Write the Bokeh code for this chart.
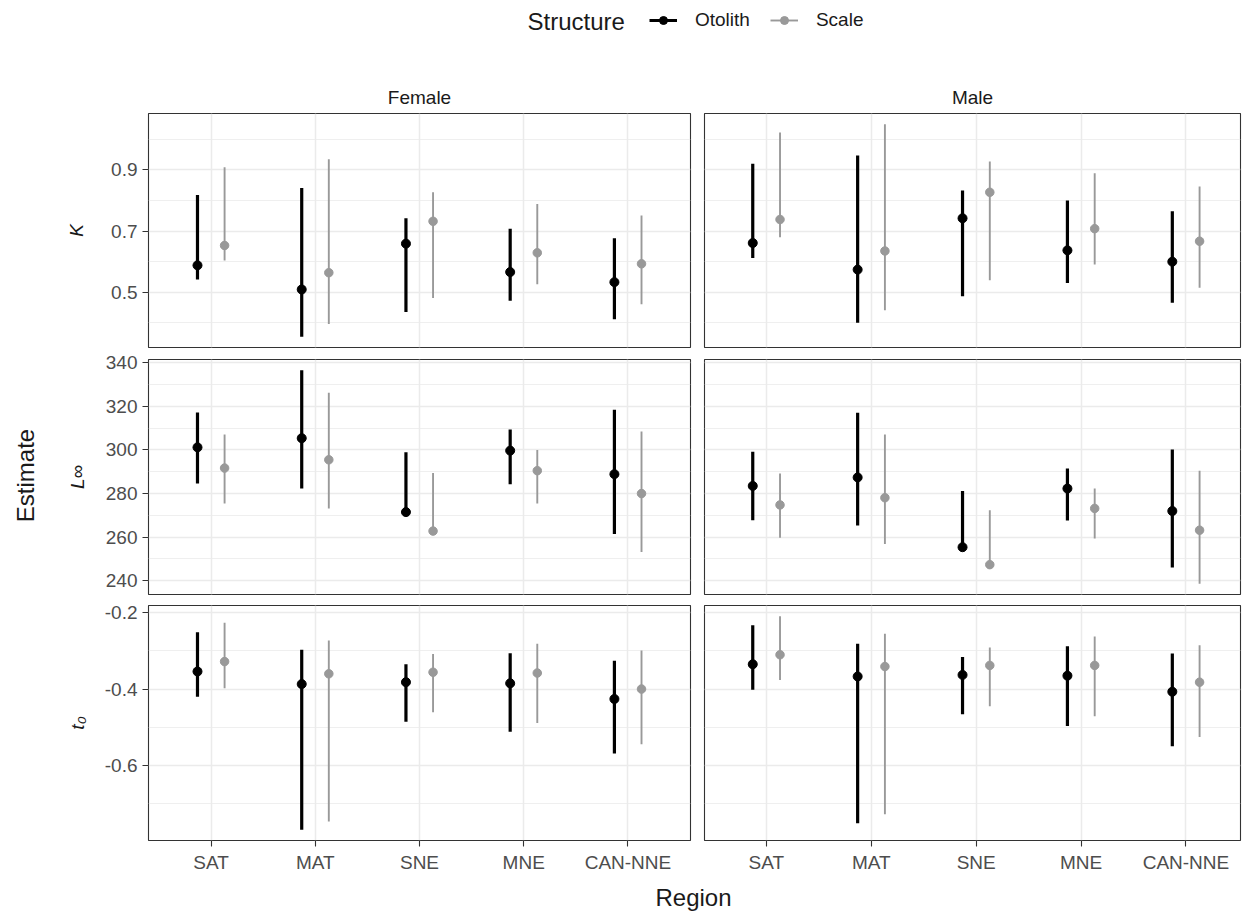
from math import pi
from bokeh.plotting import figure
from bokeh.layouts import column, row
from bokeh.models import (ColumnDataSource, Range1d, FixedTicker, LinearAxis, Grid,
                          Label, Legend, LegendItem, CustomJSTickFormatter, BasicTickFormatter)
from bokeh.transform import dodge
from bokeh.embed import file_html
from bokeh.resources import INLINE

# ---------------- data ----------------
regions = ["SAT", "MAT", "SNE", "MNE", "CAN-NNE"]
structures = ["Otolith", "Scale"]
sexes = ["Female", "Male"]
param_labels = ["K", "L\u221e", "t\u2080"]

# K
k_female_otolith_est = [0.588, 0.509, 0.659, 0.566, 0.533]
k_female_otolith_lo = [0.542, 0.354, 0.435, 0.472, 0.412]
k_female_otolith_hi = [0.818, 0.841, 0.742, 0.708, 0.677]
k_female_scale_est = [0.653, 0.564, 0.732, 0.629, 0.593]
k_female_scale_lo = [0.604, 0.396, 0.481, 0.526, 0.461]
k_female_scale_hi = [0.909, 0.935, 0.827, 0.789, 0.751]
k_male_otolith_est = [0.661, 0.574, 0.742, 0.637, 0.600]
k_male_otolith_lo = [0.612, 0.400, 0.487, 0.530, 0.466]
k_male_otolith_hi = [0.920, 0.947, 0.833, 0.800, 0.765]
k_male_scale_est = [0.738, 0.635, 0.827, 0.708, 0.667]
k_male_scale_lo = [0.680, 0.441, 0.539, 0.591, 0.515]
k_male_scale_hi = [1.023, 1.050, 0.928, 0.889, 0.846]

# L-infinity
linf_female_otolith_est = [301.2, 305.4, 271.5, 299.7, 288.9]
linf_female_otolith_lo = [284.6, 282.3, 270.8, 284.3, 261.5]
linf_female_otolith_hi = [317.2, 336.6, 298.9, 309.4, 318.5]
linf_female_scale_est = [291.7, 295.5, 262.8, 290.5, 280.0]
linf_female_scale_lo = [275.4, 273.2, 262.2, 275.4, 253.2]
linf_female_scale_hi = [307.1, 326.3, 289.4, 300.0, 308.5]
linf_male_otolith_est = [283.5, 287.4, 255.4, 282.3, 272.0]
linf_male_otolith_lo = [267.8, 265.4, 254.9, 267.7, 246.1]
linf_male_otolith_hi = [299.2, 317.1, 281.2, 291.5, 300.2]
linf_male_scale_est = [274.8, 278.1, 247.4, 273.2, 263.2]
linf_male_scale_lo = [259.7, 256.9, 246.8, 259.4, 238.6]
linf_male_scale_hi = [289.2, 307.1, 272.3, 282.3, 290.5]

# t0
t0_female_otolith_est = [-0.354, -0.387, -0.382, -0.385, -0.426]
t0_female_otolith_lo = [-0.420, -0.769, -0.486, -0.512, -0.569]
t0_female_otolith_hi = [-0.251, -0.297, -0.335, -0.306, -0.326]
t0_female_scale_est = [-0.328, -0.360, -0.356, -0.358, -0.400]
t0_female_scale_lo = [-0.398, -0.747, -0.461, -0.489, -0.545]
t0_female_scale_hi = [-0.226, -0.273, -0.308, -0.281, -0.299]
t0_male_otolith_est = [-0.335, -0.367, -0.363, -0.365, -0.407]
t0_male_otolith_lo = [-0.402, -0.752, -0.466, -0.497, -0.550]
t0_male_otolith_hi = [-0.233, -0.281, -0.316, -0.288, -0.307]
t0_male_scale_est = [-0.310, -0.341, -0.338, -0.338, -0.382]
t0_male_scale_lo = [-0.376, -0.728, -0.445, -0.471, -0.526]
t0_male_scale_hi = [-0.209, -0.255, -0.291, -0.262, -0.285]

# y tick labels per row
k_ticks = [0.5, 0.7, 0.9]
k_minor = [0.4, 0.6, 0.8, 1.0]
linf_ticks = [240, 260, 280, 300, 320, 340]
linf_minor = [230, 250, 270, 290, 310, 330, 350]
t0_ticks = [-0.6, -0.4, -0.2]
t0_minor = [-0.7, -0.5, -0.3]

# ---------------- style ----------------
OTO = "#000000"
SCA = "#999999"
GRID = "#ebebeb"
FONT = "Liberation Sans"
DODGE = 0.13
TICK_FS = "19px"

panels = {
    (0, 0): ((k_female_otolith_est, k_female_otolith_lo, k_female_otolith_hi),
             (k_female_scale_est, k_female_scale_lo, k_female_scale_hi)),
    (0, 1): ((k_male_otolith_est, k_male_otolith_lo, k_male_otolith_hi),
             (k_male_scale_est, k_male_scale_lo, k_male_scale_hi)),
    (1, 0): ((linf_female_otolith_est, linf_female_otolith_lo, linf_female_otolith_hi),
             (linf_female_scale_est, linf_female_scale_lo, linf_female_scale_hi)),
    (1, 1): ((linf_male_otolith_est, linf_male_otolith_lo, linf_male_otolith_hi),
             (linf_male_scale_est, linf_male_scale_lo, linf_male_scale_hi)),
    (2, 0): ((t0_female_otolith_est, t0_female_otolith_lo, t0_female_otolith_hi),
             (t0_female_scale_est, t0_female_scale_lo, t0_female_scale_hi)),
    (2, 1): ((t0_male_otolith_est, t0_male_otolith_lo, t0_male_otolith_hi),
             (t0_male_scale_est, t0_male_scale_lo, t0_male_scale_hi)),
}
row_ticks = [(k_ticks, k_minor), (linf_ticks, linf_minor), (t0_ticks, t0_minor)]
row_formatters = [CustomJSTickFormatter(code="return tick.toFixed(1)"),
                  BasicTickFormatter(),
                  CustomJSTickFormatter(code="return tick.toFixed(1)")]
label_standoff = [21, 15, 14]

xs = [i + 1 for i in range(len(regions))]


def y_range_for_row(r):
    lows, highs = [], []
    for c in range(2):
        for est, lo, hi in panels[(r, c)]:
            lows += lo
            highs += hi
    mn, mx = min(lows), max(highs)
    pad = 0.05 * (mx - mn)
    return (mn - pad, mx + pad)


def blank_fig(w, h):
    f = figure(width=w, height=h, x_range=Range1d(0, w), y_range=Range1d(0, h),
               x_axis_location=None, y_axis_location=None, toolbar_location=None,
               output_backend="svg", min_border=0, outline_line_color=None)
    f.grid.visible = False
    return f


frame_heights = [234, 235, 235]
tops = [45, 6, 6]
bottoms = [6, 5, 36]

rows_figs = []
for r in range(3):
    ylo, yhi = y_range_for_row(r)
    figs = []
    for c in range(2):
        if c == 0:
            xr = Range1d(0.4, 5.6)
            fw = 542
            mbl, mbr = 100, 7
        else:
            xr = Range1d(0.41, 5.52)
            fw = 536
            mbl, mbr = 7, 2
        p = figure(frame_width=fw, frame_height=frame_heights[r],
                   x_range=xr, y_range=Range1d(ylo, yhi),
                   x_axis_location=None, y_axis_location=None,
                   toolbar_location=None, output_backend="svg",
                   min_border_left=mbl, min_border_right=mbr,
                   min_border_top=tops[r], min_border_bottom=bottoms[r],
                   title=(sexes[c] if r == 0 else None))
        p.grid.visible = False
        p.outline_line_color = "#333333"
        p.outline_line_width = 1.1
        if r == 0:
            p.title.align = "center"
            p.title.text_font = FONT
            p.title.text_font_size = "19px"
            p.title.text_font_style = "normal"
            p.title.text_color = "#1a1a1a"
            p.title.standoff = 11

        major, minor = row_ticks[r]
        p.add_layout(Grid(dimension=0, ticker=FixedTicker(ticks=xs),
                          grid_line_color=GRID, grid_line_width=1.5))
        p.add_layout(Grid(dimension=1, ticker=FixedTicker(ticks=major, minor_ticks=minor),
                          grid_line_color=GRID, grid_line_width=1.5,
                          minor_grid_line_color=GRID, minor_grid_line_width=0.8))

        if c == 0:
            ya = LinearAxis(ticker=FixedTicker(ticks=major), axis_label=param_labels[r],
                            formatter=row_formatters[r])
            ya.axis_line_color = None
            ya.major_tick_line_color = "#333333"
            ya.major_tick_line_width = 1.1
            ya.major_tick_out = 6
            ya.major_tick_in = 0
            ya.minor_tick_line_color = None
            ya.major_label_standoff = 5
            ya.major_label_text_font = FONT
            ya.major_label_text_font_size = TICK_FS
            ya.major_label_text_color = "#4d4d4d"
            ya.axis_label_text_font = FONT
            ya.axis_label_text_font_size = "19px"
            ya.axis_label_text_font_style = "italic"
            ya.axis_label_text_color = "#1a1a1a"
            ya.axis_label_standoff = label_standoff[r]
            p.add_layout(ya, "left")
        if r == 2:
            xa = LinearAxis(ticker=FixedTicker(ticks=xs),
                            major_label_overrides={x: reg for x, reg in zip(xs, regions)})
            xa.axis_line_color = None
            xa.major_tick_line_color = "#333333"
            xa.major_tick_line_width = 1.1
            xa.major_tick_out = 6
            xa.major_tick_in = 0
            xa.minor_tick_line_color = None
            xa.major_label_standoff = 5
            xa.major_label_text_font = FONT
            xa.major_label_text_font_size = TICK_FS
            xa.major_label_text_color = "#4d4d4d"
            p.add_layout(xa, "below")

        (oe, ol, oh), (se, sl, sh) = panels[(r, c)]
        src_o = ColumnDataSource(dict(x=xs, est=oe, lo=ol, hi=oh))
        src_s = ColumnDataSource(dict(x=xs, est=se, lo=sl, hi=sh))
        p.segment(x0=dodge("x", -DODGE), y0="lo", x1=dodge("x", -DODGE), y1="hi",
                  source=src_o, line_color=OTO, line_width=3.2)
        p.scatter(x=dodge("x", -DODGE), y="est", source=src_o, size=9,
                  fill_color=OTO, line_color=OTO)
        p.segment(x0=dodge("x", DODGE), y0="lo", x1=dodge("x", DODGE), y1="hi",
                  source=src_s, line_color=SCA, line_width=1.9)
        p.scatter(x=dodge("x", DODGE), y="est", source=src_s, size=8.5,
                  fill_color=SCA, line_color=SCA)
        figs.append(p)
    rows_figs.append(row(*figs))

grid_col = column(*rows_figs)
grid_h = sum(frame_heights) + sum(tops) + sum(bottoms)
TOP_H = 68
W = 1242

# ---- Estimate (overall y label) ----
est_fig = blank_fig(48, grid_h)
est_fig.add_layout(Label(x=25, y=grid_h - (475 - TOP_H), text="Estimate", angle=pi / 2,
                         text_align="center", text_baseline="middle",
                         text_font=FONT, text_font_size="24px", text_color="#1a1a1a"))

# ---- legend on top ----
leg = blank_fig(W, TOP_H)
nan_src = ColumnDataSource(dict(x=[float("nan")], y=[float("nan")]))
rl1 = leg.line("x", "y", source=nan_src, line_color=OTO, line_width=3.0)
rp1 = leg.scatter("x", "y", source=nan_src, size=7, fill_color=OTO, line_color=OTO)
rl2 = leg.line("x", "y", source=nan_src, line_color=SCA, line_width=1.9)
rp2 = leg.scatter("x", "y", source=nan_src, size=6.5, fill_color=SCA, line_color=SCA)
legend = Legend(items=[LegendItem(label=structures[0], renderers=[rl1, rp1]),
                       LegendItem(label=structures[1], renderers=[rl2, rp2])],
                orientation="horizontal", location=(649, TOP_H - 21 - 10),
                glyph_width=28, glyph_height=20, label_standoff=18, spacing=20,
                padding=0, margin=0, border_line_color=None, background_fill_alpha=0,
                label_text_font=FONT, label_text_font_size="19px",
                label_text_color="#1a1a1a", label_text_baseline="middle")
leg.add_layout(legend, "center")
leg.add_layout(Label(x=527, y=TOP_H - 21, text="Structure", text_align="left",
                     text_baseline="middle",
                     text_font=FONT, text_font_size="24px", text_color="#1a1a1a"))

# ---- Region (overall x label) ----
REG_H = 914 - TOP_H - grid_h
reg_fig = blank_fig(W, REG_H)
reg_fig.add_layout(Label(x=693, y=REG_H - (897 - TOP_H - grid_h), text="Region",
                         text_align="center", text_baseline="middle",
                         text_font=FONT, text_font_size="24px", text_color="#1a1a1a"))

layout = column(leg, row(est_fig, grid_col), reg_fig)

with open("out.html", "w") as f:
    f.write(file_html(layout, INLINE))
